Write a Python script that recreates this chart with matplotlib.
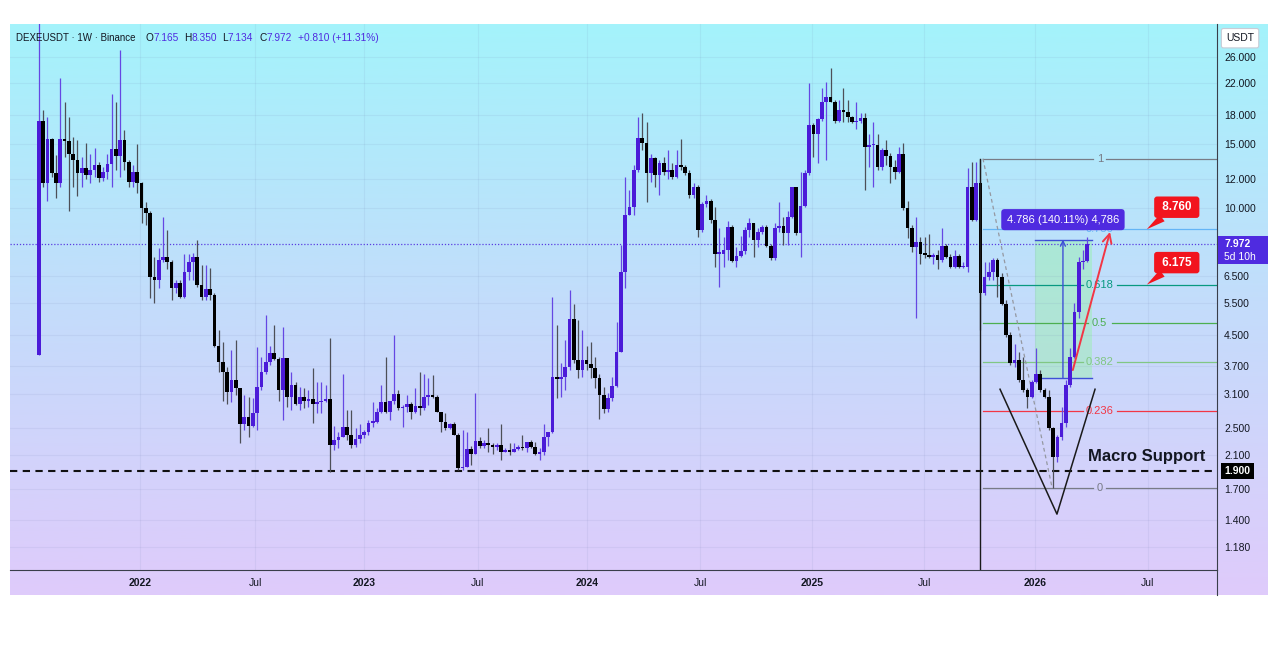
import numpy as np
import matplotlib.pyplot as plt
import matplotlib.transforms as mtransforms
from matplotlib.patches import Rectangle
from matplotlib.colors import LinearSegmentedColormap
from matplotlib.ticker import NullLocator

# weekly DEXEUSDT candles (open = previous close)
first_open = 3.95
last_open = 7.165
closes = [17.4, 11.7, 15.5, 12.5, 11.7, 15.5, 15.3, 14.1, 13.6, 12.5,
          12.9, 12.3, 12.7, 13.1, 12.1, 12.6, 13.2, 14.5, 13.9, 15.4,
          13.4, 11.8, 12.6, 11.7, 10.0, 9.7, 6.48, 6.36, 7.2, 7.35,
          7.1, 6.05, 6.25, 5.71, 6.7, 7.1, 7.35, 6.15, 5.71, 6.0,
          5.8, 4.19, 3.8, 3.55, 3.13, 3.38, 3.21, 2.56, 2.67, 2.53,
          2.74, 3.23, 3.55, 3.79, 4.0, 3.86, 3.17, 3.89, 3.03, 3.27,
          2.91, 3.03, 2.97, 3.0, 2.91, 2.94, 2.96, 3.0, 2.25, 2.31,
          2.36, 2.52, 2.39, 2.25, 2.33, 2.39, 2.44, 2.58, 2.6, 2.76,
          2.94, 2.76, 2.96, 3.09, 2.83, 2.85, 2.9, 2.76, 2.87, 2.83,
          3.03, 3.07, 3.03, 2.76, 2.6, 2.5, 2.56, 2.39, 1.94, 1.95,
          2.19, 2.12, 2.3, 2.23, 2.27, 2.25, 2.21, 2.25, 2.15, 2.17,
          2.14, 2.19, 2.21, 2.2, 2.28, 2.21, 2.12, 2.14, 2.36, 2.44,
          3.44, 3.4, 3.44, 3.67, 4.97, 3.84, 3.6, 3.84, 3.74, 3.65,
          3.42, 3.07, 2.82, 3.01, 3.25, 4.03, 6.7, 9.6, 10.1, 12.7,
          15.6, 15.1, 12.5, 13.7, 12.3, 13.3, 12.6, 12.7, 12.2, 13.1,
          13.0, 12.5, 10.9, 11.4, 8.7, 10.3, 10.5, 9.3, 7.5, 7.5,
          7.7, 8.9, 7.15, 7.4, 7.65, 8.7, 9.1, 8.2, 8.6, 8.9,
          7.9, 7.3, 8.85, 8.95, 8.55, 9.47, 11.4, 8.55, 10.15, 12.5,
          16.9, 16.0, 17.6, 19.6, 20.2, 19.5, 17.4, 18.6, 18.4, 17.8,
          17.2, 17.4, 17.7, 14.7, 14.9, 14.9, 13.0, 14.4, 13.9, 13.0,
          12.6, 14.1, 10.0, 8.85, 7.83, 8.1, 7.5, 7.45, 7.35, 7.45,
          7.2, 7.9, 7.35, 6.9, 7.4, 6.9, 6.9, 11.4, 9.3, 11.7,
          5.85, 6.48, 6.7, 7.2, 6.48, 5.46, 4.49, 3.76, 3.84, 3.38,
          3.17, 3.03, 3.33, 3.52, 3.17, 3.03, 2.5, 2.08, 2.36, 2.58,
          3.27, 3.91, 5.2, 7.1, 7.162, 7.972]
highs = [40, 18.6, 17.8, 15.6, 14.0, 22.7, 19.6, 17.8, 15.7, 15.4,
         13.8, 15.1, 14.1, 14.6, 13.4, 13.0, 14.1, 20.6, 19.6, 27.2,
         16.4, 13.6, 13.1, 15.0, 11.8, 10.4, 9.8, 7.35, 7.8, 9.47,
         8.7, 7.2, 6.36, 6.36, 7.5, 7.5, 7.55, 8.2, 7.0, 7.0,
         6.85, 5.85, 4.63, 4.3, 3.67, 4.08, 4.35, 3.21, 3.07, 3.03,
         3.01, 4.16, 3.91, 5.1, 4.2, 4.78, 3.91, 4.72, 3.89, 3.55,
         3.33, 3.23, 3.21, 3.17, 3.65, 3.33, 3.33, 3.27, 4.4, 2.53,
         2.44, 3.52, 2.8, 2.8, 2.5, 2.56, 2.47, 2.62, 2.94, 2.83,
         3.27, 3.91, 2.97, 4.5, 3.17, 2.89, 3.07, 2.94, 3.21, 3.55,
         3.52, 3.42, 3.5, 3.07, 2.76, 2.74, 2.58, 2.6, 2.42, 2.47,
         2.44, 2.23, 3.11, 2.36, 2.31, 2.5, 2.27, 2.27, 2.56, 2.2,
         2.27, 2.27, 2.25, 2.39, 2.28, 2.31, 2.28, 2.2, 2.56, 2.44,
         5.71, 4.78, 3.76, 4.35, 5.97, 5.46, 4.94, 4.63, 4.2, 4.3,
         3.91, 3.52, 3.23, 3.11, 3.44, 4.87, 7.93, 12.2, 11.2, 13.1,
         17.8, 18.3, 17.2, 14.1, 13.8, 13.6, 13.8, 14.4, 13.3, 14.4,
         15.5, 13.1, 12.7, 11.7, 11.6, 10.4, 10.9, 10.6, 10.1, 8.85,
         8.34, 9.2, 9.0, 7.83, 8.4, 8.9, 9.4, 9.1, 8.85, 9.0,
         9.0, 8.0, 9.1, 10.4, 9.47, 9.8, 11.45, 11.45, 12.6, 12.7,
         22.0, 17.1, 17.7, 21.4, 22.2, 24.2, 19.8, 19.8, 21.3, 19.8,
         17.9, 19.5, 18.3, 18.2, 16.0, 17.2, 16.0, 14.6, 15.4, 14.2,
         13.6, 14.7, 15.1, 10.5, 9.0, 9.47, 8.34, 8.34, 8.5, 7.55,
         7.7, 8.85, 8.0, 7.5, 7.7, 7.5, 7.1, 12.9, 13.4, 13.4,
         13.68, 7.1, 7.1, 7.3, 7.3, 6.65, 5.6, 4.57, 4.25, 4.03,
         3.91, 3.21, 3.38, 4.13, 3.6, 3.21, 3.17, 2.51, 2.39, 2.85,
         3.38, 4.13, 5.5, 7.35, 7.7, 8.35]
lows = [3.95, 11.4, 10.5, 12.2, 10.7, 11.4, 13.8, 9.8, 11.4, 10.8,
        11.4, 12.0, 11.7, 12.2, 11.8, 11.9, 12.0, 11.4, 12.7, 12.2,
        12.7, 11.4, 11.4, 11.0, 9.1, 9.0, 5.67, 5.5, 6.05, 7.1,
        6.8, 5.6, 5.85, 5.67, 5.67, 6.36, 6.36, 6.08, 5.6, 5.6,
        5.6, 4.16, 3.55, 2.97, 2.91, 2.94, 3.07, 2.27, 2.47, 2.36,
        2.51, 2.47, 3.17, 3.52, 3.72, 3.84, 2.97, 2.62, 2.85, 2.8,
        2.89, 2.8, 2.83, 2.85, 2.58, 2.74, 2.74, 2.94, 1.89, 2.17,
        2.2, 2.36, 2.31, 2.2, 2.21, 2.27, 2.35, 2.39, 2.51, 2.58,
        2.74, 2.74, 2.62, 2.91, 2.8, 2.52, 2.76, 2.65, 2.74, 2.71,
        2.8, 2.89, 3.01, 2.76, 2.44, 2.47, 2.48, 2.39, 1.92, 1.92,
        1.95, 1.98, 2.12, 2.2, 2.2, 2.14, 2.12, 2.17, 2.04, 2.14,
        2.1, 2.14, 2.17, 2.17, 2.14, 2.2, 2.1, 2.04, 2.11, 2.23,
        2.42, 3.01, 3.03, 3.17, 3.6, 3.76, 3.42, 3.44, 3.6, 3.42,
        3.21, 2.65, 2.74, 2.76, 2.97, 3.23, 4.03, 6.05, 9.6, 9.6,
        12.6, 14.4, 10.4, 11.8, 11.4, 10.9, 12.3, 12.0, 12.0, 12.1,
        12.7, 12.3, 10.7, 10.7, 8.34, 8.6, 10.1, 9.1, 6.9, 6.08,
        6.9, 7.2, 7.1, 6.9, 7.35, 7.5, 8.34, 7.35, 7.83, 8.5,
        7.83, 7.2, 7.2, 8.6, 7.93, 7.93, 9.4, 8.45, 7.35, 10.1,
        12.3, 13.8, 13.3, 17.4, 13.6, 19.5, 17.1, 17.2, 17.2, 17.2,
        17.1, 16.5, 17.1, 11.2, 13.0, 11.4, 12.7, 12.7, 13.1, 11.7,
        12.0, 12.5, 9.9, 8.3, 7.6, 5.0, 7.05, 7.3, 7.3, 7.05,
        6.8, 7.1, 7.3, 6.85, 6.85, 6.85, 6.85, 6.7, 9.2, 9.2,
        4.63, 5.8, 6.36, 6.36, 5.71, 5.43, 4.43, 3.72, 3.67, 3.33,
        3.13, 2.83, 3.01, 3.31, 3.13, 3.01, 2.47, 1.706, 2.01, 2.31,
        2.51, 3.23, 3.89, 5.0, 6.8, 7.134]

price_ticks = [1.18, 1.4, 1.7, 2.1, 2.5, 3.1, 3.7, 4.5, 5.5, 6.5, 10, 12, 15, 18, 22, 26]
time_pos = [23.6, 50.5, 76.0, 102.6, 128.1, 154.5, 180.6, 206.9, 232.7, 259.1]
time_lbl = ['2022', 'Jul', '2023', 'Jul', '2024', 'Jul', '2025', 'Jul', '2026', 'Jul']

fib_levels = [0, 0.236, 0.382, 0.5, 0.618, 0.786, 1]
fib_colors = ['#787b86', '#f23645', '#81c784', '#4caf50', '#089981', '#64b5f6', '#787b86']
fib_hi_i = 220
fib_lo_i = 237

measure_lo = 3.416
measure_chg = 4.786
callouts = [8.760, 6.175]
support = 1.9

UP = '#4b1bd8'
UP_WICK = '#6547e3'
DN = '#000000'
DN_WICK = '#4d4f57'
TXT = '#131722'
PURP = '#4f2be0'
RED = '#f2141e'
plt.rcParams['font.family'] = ['Liberation Sans', 'DejaVu Sans']

W, H = 1280, 649
fig = plt.figure(figsize=(12.8, 6.49), dpi=100)
fig.patch.set_facecolor('white')

def fx(x):
    return x / W

def fy(y):
    return 1 - y / H

# gradient panel behind chart + axes
bg = fig.add_axes([fx(10), fy(595), fx(1268) - fx(10), fy(24) - fy(595)])
cmap = LinearSegmentedColormap.from_list('bg', ['#a4f3fb', '#c4dcfb', '#dfcbfb'])
bg.imshow(np.linspace(0, 1, 256).reshape(-1, 1), aspect='auto', cmap=cmap,
          extent=[0, 1, 0, 1], origin='upper')
bg.axis('off')

ax = fig.add_axes([fx(10), fy(570), fx(1217) - fx(10), fy(24) - fy(570)])
ax.patch.set_alpha(0)
ax.set_yscale('log')
ax.set_xlim(-6.75, 275.3)
ax.set_ylim(1.019, 32.0)
ymin, ymax = ax.get_ylim()
k = np.log(ymax / ymin) / 546.0  # log-price per pixel

# candles
opens = [first_open] + closes[:-2] + [last_open]
x = np.arange(len(closes))
up = np.array(closes) >= np.array(opens)
bots = np.minimum(opens, closes)
hts = np.maximum(np.abs(np.array(closes) - np.array(opens)), bots * 0.009)
ax.vlines(x, lows, highs, colors=np.where(up, UP_WICK, DN_WICK), lw=0.9, zorder=3)
ax.bar(x, hts, bottom=bots, width=0.86, color=np.where(up, UP, DN), lw=0, zorder=3)

# axes cosmetics
ax.yaxis.tick_right()
ax.set_yticks(price_ticks)
ax.set_yticklabels(['%.3f' % t for t in price_ticks])
ax.yaxis.set_minor_locator(NullLocator())
ax.set_xticks(time_pos)
ax.set_xticklabels(time_lbl)
for lbl in ax.get_xticklabels():
    if lbl.get_text() != 'Jul':
        lbl.set_fontweight('bold')
ax.tick_params(axis='y', length=0, pad=5, labelsize=7.5, labelcolor=TXT)
ax.tick_params(axis='x', length=0, pad=6, labelsize=7.5, labelcolor=TXT)
ax.grid(True, color='#6f7fb0', alpha=0.10, lw=0.8)
for s in ['top', 'left']:
    ax.spines[s].set_visible(False)
for s in ['right', 'bottom']:
    ax.spines[s].set_color('#3a3e4a')
    ax.spines[s].set_linewidth(0.8)
ax.plot([1, 1], [-25 / 546, 0], transform=ax.transAxes, color='#3a3e4a', lw=0.8, clip_on=False)

# current price and macro support
last_close = closes[-1]
ax.axhline(last_close, color='#5a3de0', ls=(0, (1, 1.5)), lw=0.9, zorder=2)
ax.axhline(support, color='#111111', ls=(0, (3.5, 2.6)), lw=1.5, zorder=2)
ax.text(245.1, support * np.exp(k * 15), 'Macro Support', fontsize=12, fontweight='bold',
        ha='left', va='center', color=TXT, zorder=6)

# fib retracement
lo, hi = lows[fib_lo_i], highs[fib_hi_i]
fx0, fx1 = fib_hi_i + 0.6, ax.get_xlim()[1]
lab_x = 247.9
for lev, col in zip(fib_levels, fib_colors):
    p = np.exp(np.log(lo) + lev * (np.log(hi) - np.log(lo)))
    txt = '%g' % lev
    half = (len(txt) * 5.2 + 8) / 2 / 4.28
    ax.plot([fx0, lab_x - half], [p, p], color=col, lw=0.9, zorder=2)
    ax.plot([lab_x + half, fx1], [p, p], color=col, lw=0.9, zorder=2)
    ax.text(lab_x, p, txt, color=col, fontsize=8, ha='center', va='center', zorder=2)
ax.plot([fx0, fib_lo_i - 0.2], [hi, lo], color='#9598a1', ls=(0, (3, 2.5)), lw=0.9, zorder=2)
ax.plot([fib_hi_i, fib_hi_i], [ymin, hi], color='#1a1a1a', lw=1.0, zorder=3)

# price range measure
mx0, mx1, mxa = 232.7, 246.1, 239.3
measure_hi = measure_lo + measure_chg
ax.add_patch(Rectangle((mx0, measure_lo), mx1 - mx0, measure_hi - measure_lo,
                       fc='#8ef59a', alpha=0.38, lw=0, zorder=1))
ax.plot([mx0, mx1], [measure_lo, measure_lo], color='#3f4fd6', lw=1, zorder=2)
ax.plot([mx0, mx1], [measure_hi, measure_hi], color='#3f4fd6', lw=1, zorder=2)
ax.annotate('', xy=(mxa, measure_hi), xytext=(mxa, measure_lo),
            arrowprops=dict(arrowstyle='->', color='#3f4fd6', lw=1, mutation_scale=9,
                            shrinkA=0, shrinkB=0), zorder=2)
pct = measure_chg / measure_lo * 100
mlabel = f'{measure_chg:.3f} ({pct:.2f}%) ' + f'{measure_chg:.3f}'.replace('.', ',')
ax.text(mxa, measure_hi * np.exp(k * 20), mlabel, ha='center', va='center', color='white',
        fontsize=8, bbox=dict(boxstyle='round,pad=0.5,rounding_size=0.3', fc=PURP, ec='none'),
        zorder=7)

# V pattern and projected move
ax.plot([224.6, 237.9, 246.8], [3.19, 1.45, 3.19], color='#1a1a1a', lw=1.1, zorder=4)
ax.annotate('', xy=(250.3, 8.61), xytext=(241.6, 3.60),
            arrowprops=dict(arrowstyle='->', color='#f23645', lw=1.4, mutation_scale=16,
                            shrinkA=0, shrinkB=0), zorder=5)

# target callouts
for val in callouts:
    ax.annotate(f' {val:.3f} ', xy=(258.9, val), xytext=(265.9, val * np.exp(k * 22)),
                ha='center', va='center', color='white', fontsize=8.5, fontweight='bold',
                bbox=dict(boxstyle='round,pad=0.4,rounding_size=0.25', fc=RED, ec='none'),
                arrowprops=dict(arrowstyle='wedge,tail_width=0.7,shrink_factor=0.5', fc=RED,
                                ec='none', shrinkA=0, shrinkB=0), zorder=7)

# price-axis labels
trans = mtransforms.blended_transform_factory(ax.transAxes, ax.transData)
ax.add_patch(Rectangle((1.0008, last_close * np.exp(-k * 20)), 50 / 1207,
                       last_close * np.exp(k * 8) - last_close * np.exp(-k * 20),
                       transform=trans, fc=PURP, ec='none', clip_on=False, zorder=8))
ax.text(1.0058, last_close, '%.3f' % last_close, transform=trans, color='white', fontsize=7.5,
        fontweight='bold', va='center', ha='left', clip_on=False, zorder=9)
ax.text(1.0058, last_close * np.exp(-k * 13), '5d 10h', transform=trans, color='white',
        fontsize=7.5, va='center', ha='left', clip_on=False, zorder=9)
ax.text(1.0062, support, '%.3f' % support, transform=trans, color='white', fontsize=7.5,
        fontweight='bold', va='center', ha='left', clip_on=False, zorder=9,
        bbox=dict(boxstyle='square,pad=0.3', fc='black', ec='none'))
ax.text(1.0075, 0.974, 'USDT', transform=ax.transAxes, color=TXT, fontsize=7.5,
        va='center', ha='left', clip_on=False, zorder=9,
        bbox=dict(boxstyle='round,pad=0.45,rounding_size=0.2', fc='white', ec='#c9ccd6', lw=0.8))

# header legend
hy = fy(38)
fig.text(fx(16), hy, 'DEXEUSDT · 1W · Binance', color=TXT, fontsize=7.0, va='center')
pieces = [(146, 'O', '%.3f' % opens[-1]), (184, 'H', '%.3f' % highs[-1]),
          (222, 'L', '%.3f' % lows[-1]), (259, 'C', '%.3f' % closes[-1])]
for px_, key, val in pieces:
    fig.text(fx(px_), hy, key, color=TXT, fontsize=7.3, va='center')
    fig.text(fx(px_ + (6 if key == 'L' else 7.6)), hy, val, color=PURP, fontsize=7.3, va='center')
chg = closes[-1] - closes[-2]
fig.text(fx(298), hy, '+%.3f (+%.2f%%)' % (chg, chg / closes[-2] * 100), color=PURP,
         fontsize=7.3, va='center')

fig.savefig('out.png', dpi=100)
